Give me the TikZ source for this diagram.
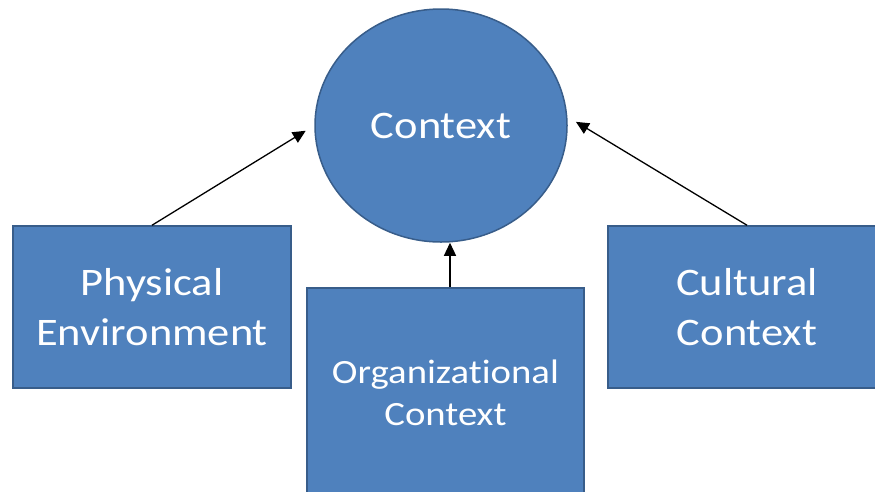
\documentclass[tikz,border=0pt]{standalone}
\usepackage{fontspec}
\setmainfont{Carlito}[FakeStretch=1.14, Ligatures=NoCommon]
\usepackage{tikz}
\usetikzlibrary{shapes.geometric,arrows.meta,calc}
\definecolor{officeblue}{RGB}{79, 129, 189}
\definecolor{officeedge}{RGB}{56, 93, 138}

\tikzset{
    block/.style={rectangle, fill=officeblue, draw=officeedge, line width=1.5pt,
        inner sep=0pt, text=white, align=center,
        font=\fontsize{39}{50}\selectfont},
    hub/.style={ellipse, fill=officeblue, draw=officeedge, line width=1.5pt,
        inner sep=0pt, text=white, font=\fontsize{39}{50}\selectfont},
    link/.style={draw=black, line width=1.3pt, -{Triangle[length=13pt,width=12pt]}}
}

\begin{document}
\begin{tikzpicture}[x=1pt, y=-1pt]
    \useasboundingbox (0,0) rectangle (875,491);
    \clip (0,0) rectangle (875,491);

    % centre and the three sources around it
    \node[hub, minimum width=252pt, minimum height=233pt] (ctx) at (441,125.5) {Context};
    \node[block, minimum width=278pt, minimum height=162pt] (phys) at (152,307) {Physical\\Environment};
    \node[block, minimum width=277pt, minimum height=210pt,
        font=\fontsize{34}{42}\selectfont] (org) at (445.5,393) {Organizational\\Context};
    \node[block, minimum width=278pt, minimum height=162pt] (cult) at (747,307) {Cultural\\Context};

    % arrows into the centre
    \draw[link, shorten >=10pt] (phys.north) -- (ctx.west);
    \draw[link] ($(org.north)+(4.5,0)$) -- ($(org.north |- ctx.south)+(4.5,0)$);
    \draw[link, shorten >=10pt] (cult.north) -- (ctx.4);
\end{tikzpicture}
\end{document}
